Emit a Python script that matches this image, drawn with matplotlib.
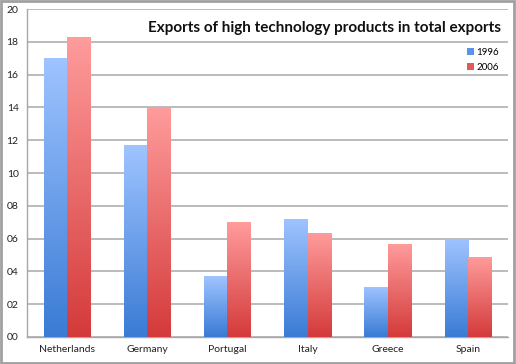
import numpy as np
import matplotlib
matplotlib.use("Agg")
import matplotlib.pyplot as plt
from matplotlib.colors import LinearSegmentedColormap
from matplotlib.ticker import FuncFormatter

categories = ["Netherlands", "Germany", "Portugal", "Italy", "Greece", "Spain"]
vals_1996 = [17.0, 11.7, 3.7, 7.2, 3.05, 6.0]
vals_2006 = [18.3, 14.0, 7.0, 6.35, 5.7, 4.9]
series_labels = ["1996", "2006"]
title = "Exports of high technology products in total exports"

fig = plt.figure(figsize=(5.16, 3.64), dpi=100)
ax = fig.add_axes([0.0523, 0.0742, 0.932, 0.901])

x = np.arange(len(categories))
w = 0.29
cmap_b = LinearSegmentedColormap.from_list("b", ["#3a7bd5", "#9fc4ff"])
cmap_r = LinearSegmentedColormap.from_list("r", ["#d43a3a", "#ff9c9c"])
grad = np.linspace(0, 1, 256).reshape(-1, 1)

bars_b = ax.bar(x - w/2, vals_1996, w, color="#5a94ea", label=series_labels[0], zorder=2)
bars_r = ax.bar(x + w/2, vals_2006, w, color="#e05a5a", label=series_labels[1], zorder=2)
for bars, cm in ((bars_b, cmap_b), (bars_r, cmap_r)):
    for b in bars:
        bx, by = b.get_x(), b.get_y()
        bw, bh = b.get_width(), b.get_height()
        im = ax.imshow(grad, extent=[bx, bx + bw, by, by + bh], origin="lower",
                       aspect="auto", cmap=cm, zorder=3, interpolation="bilinear")
        im.set_clip_path(b)

ax.set_xlim(-0.5, len(categories) - 0.5)
ax.set_ylim(0, 20)
ax.set_yticks(np.arange(0, 21, 2))
ax.yaxis.set_major_formatter(FuncFormatter(lambda v, p: f"{int(v):02d}"))
ax.set_xticks(x)
ax.set_xticklabels(categories)
ax.grid(axis="y", color="#b5b5b5", linewidth=1.3, zorder=0)
ax.set_axisbelow(True)
for s in ["top", "right"]:
    ax.spines[s].set_visible(False)
for s in ["left", "bottom"]:
    ax.spines[s].set_color("#a8a8a8")
    ax.spines[s].set_linewidth(1.0)
ax.tick_params(length=0, labelsize=7.5, colors="#222222", pad=6)
for lab in ax.get_xticklabels() + ax.get_yticklabels():
    lab.set_family("Lato")

ax.text(0.985, 0.942, title, transform=ax.transAxes, ha="right", va="center",
        fontsize=11.0, fontweight="bold", family="Lato", color="#111111", zorder=5)

leg = ax.legend(loc="upper right", bbox_to_anchor=(1.0, 0.907), frameon=False,
                prop={"family": "Lato", "size": 7}, handlelength=0.7, handleheight=0.7,
                handletextpad=0.3, labelspacing=0.6)

fig.patches.append(plt.Rectangle((0.002, 0.003), 0.995, 0.993, transform=fig.transFigure,
                                 fill=False, edgecolor="#a0a0a0", linewidth=2))
fig.savefig("out.png", dpi=100)
